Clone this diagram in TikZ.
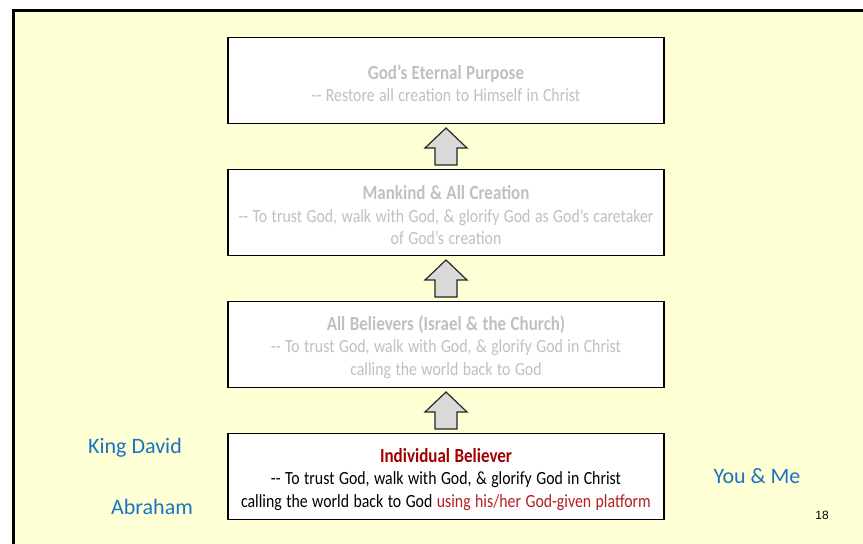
\documentclass[tikz,border=0pt]{standalone}
\usepackage{fontspec}
\usepackage{tikz}
\usetikzlibrary{positioning}
\newfontfamily\slidefont{Carlito}[FakeStretch=0.85]
\newfontfamily\namefont{Carlito}
\newfontfamily\numfont{Liberation Sans}
\definecolor{bgyellow}{HTML}{FFFFD5}
\definecolor{ghostgray}{HTML}{C0C0C0}
\definecolor{titlered}{HTML}{A00000}
\definecolor{platformred}{HTML}{B41E23}
\definecolor{nameblue}{HTML}{1A74C4}
\definecolor{arrowgray}{HTML}{D9D9D9}
\newcommand{\leveltitle}[1]{{\fontsize{20}{23}\selectfont\bfseries\rule{0pt}{20pt}#1}}

\begin{document}
\begin{tikzpicture}[x=1pt,y=-1pt,
  stage/.style={rectangle,draw=black,line width=1.6pt,fill=white,inner xsep=2pt,
    minimum width=436pt,minimum height=86pt,text width=432pt,align=center,
    font=\slidefont\fontsize{18.6}{22.5}\selectfont,
    execute at begin node={\spaceskip=0.24em\relax}},
  faded/.style={stage,text=ghostgray},
  person/.style={text=nameblue,font=\namefont\fontsize{22}{25}\selectfont},
  liftarrow/.pic={\draw[line width=1.2pt,draw=black!85,fill=arrowgray,line join=miter]
    (-11,18.5) -- (-11,1.5) -- (-21,1.5) -- (0,-18.5) -- (21,1.5) -- (11,1.5) -- (11,18.5) -- cycle;}]
  \useasboundingbox (0,0) rectangle (863,544);
  \draw[line width=3pt,fill=bgyellow] (13.5,10) rectangle (880,560);

  \node[stage] (B4) at (446,476.5) {\leveltitle{\color{titlered}Individual Believer}\\
    -{}- To trust God, walk with God, \& glorify God in Christ\\
    calling the world back to God {\color{platformred}using his/her God-given platform}};
  \node[faded] (B3) [above=44.4pt of B4] {\leveltitle{All Believers (Israel \& the Church)}\\
    -{}- To trust God, walk with God, \& glorify God in Christ\\
    calling the world back to God};
  \node[faded] (B2) [above=44.4pt of B3] {\leveltitle{Mankind \& All Creation}\\
    -{}- To trust God, walk with God, \& glorify God as God’s caretaker\\
    of God’s creation};
  \node[faded] (B1) [above=44.4pt of B2] {\leveltitle{God’s Eternal Purpose}\\
    -{}- Restore all creation to Himself in Christ};

  \node[person] (David) at (135,448) {King David};
  \node[person] (Abraham) at (152,507) {Abraham};
  \node[person] (You) at (757,476) {You \& Me};
  \node[font=\numfont\fontsize{12}{14}\selectfont] (page) at (822,515) {18};

  % block arrows climb from each level to the one above
  \path (B4.north) -- (B3.south) pic[midway] {liftarrow};
  \path (B3.north) -- (B2.south) pic[midway] {liftarrow};
  \path (B2.north) -- (B1.south) pic[midway] {liftarrow};
\end{tikzpicture}
\end{document}
